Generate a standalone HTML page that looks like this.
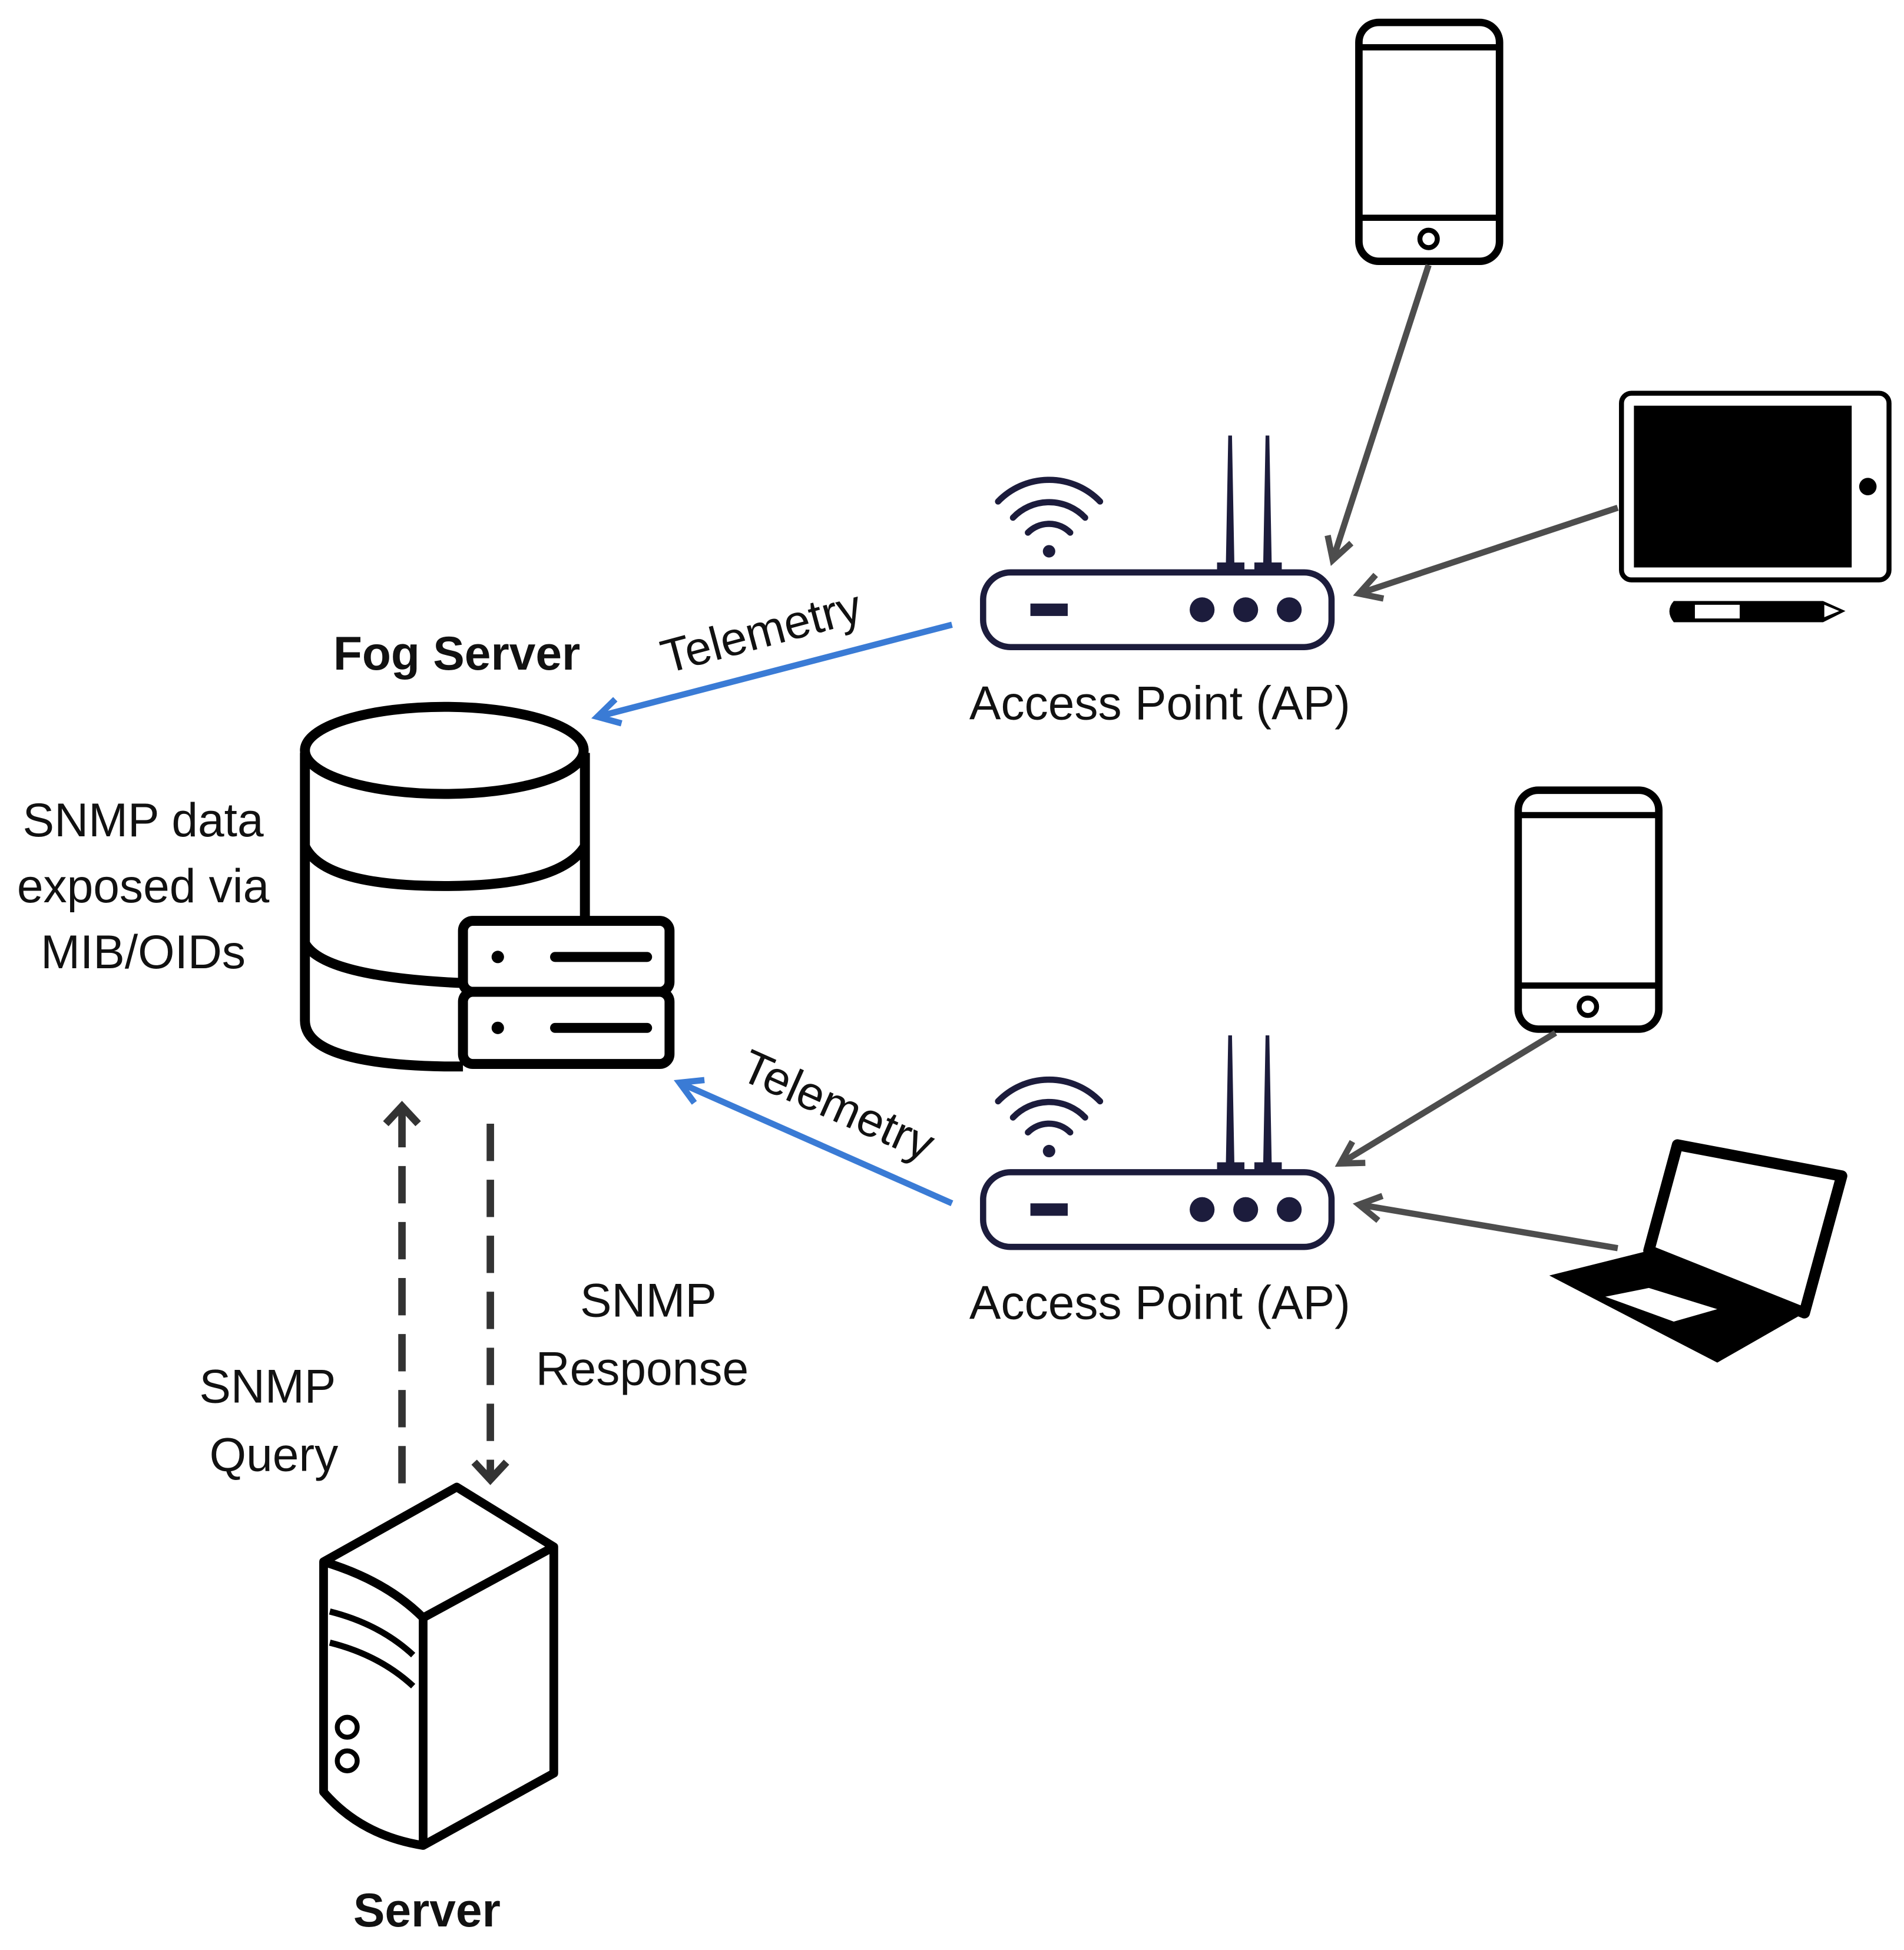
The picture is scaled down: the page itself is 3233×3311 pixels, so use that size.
<!DOCTYPE html>
<html><head><meta charset="utf-8"><style>
html,body{margin:0;padding:0;background:#fff}
svg{display:block}
text{font-family:"Liberation Sans",sans-serif;fill:#111}
</style></head><body>
<svg width="3233" height="3311" viewBox="0 0 1530 1567" xmlns="http://www.w3.org/2000/svg">
<defs>
<marker id="ag" viewBox="0 0 10 10" refX="8" refY="5" markerWidth="5" markerHeight="5" orient="auto"><path d="M1,1 L8,5 L1,9" fill="none" stroke="#4d4d4d" stroke-width="2"/></marker>
<marker id="ab" viewBox="0 0 10 10" refX="8" refY="5" markerWidth="5" markerHeight="5" orient="auto"><path d="M1,1 L8,5 L1,9" fill="none" stroke="#3a7bd5" stroke-width="2"/></marker>
<marker id="ad" viewBox="0 0 10 10" refX="8" refY="5" markerWidth="4" markerHeight="4" orient="auto"><path d="M1,1 L8,5 L1,9" fill="none" stroke="#333" stroke-width="2"/></marker>
<g id="ap">
<rect x="790" y="460" width="280" height="60" rx="22" fill="#fff" stroke="#1c1c3c" stroke-width="5"/>
<rect x="828" y="485" width="30" height="10" fill="#1c1c3c"/>
<circle cx="966" cy="490" r="10" fill="#1c1c3c"/><circle cx="1001" cy="490" r="10" fill="#1c1c3c"/><circle cx="1036" cy="490" r="10" fill="#1c1c3c"/>
<path d="M985,458 L987,350 L990,350 L992,458Z M1015,458 L1017,350 L1020,350 L1022,458Z" fill="#1c1c3c"/>
<rect x="978" y="452" width="22" height="8" fill="#1c1c3c"/><rect x="1008" y="452" width="22" height="8" fill="#1c1c3c"/>
<circle cx="843" cy="443" r="5" fill="#1c1c3c"/>
<g fill="none" stroke="#1c1c3c" stroke-width="5" stroke-linecap="round">
<path d="M826,428 A24,24 0 0 1 860,428"/><path d="M814,416 A40,40 0 0 1 872,416"/><path d="M802,403 A57,57 0 0 1 884,403"/></g>
</g>
<g id="phone">
<rect x="1092" y="18" width="113" height="192" rx="16" fill="#fff" stroke="#000" stroke-width="6"/>
<line x1="1092" y1="38" x2="1205" y2="38" stroke="#000" stroke-width="5"/>
<line x1="1092" y1="175" x2="1205" y2="175" stroke="#000" stroke-width="5"/>
<circle cx="1148" cy="192" r="7" fill="none" stroke="#000" stroke-width="4"/>
</g>
</defs>
<use href="#phone"/>
<use href="#phone" transform="translate(128,617)"/>
<!-- tablet -->
<rect x="1303" y="316" width="215" height="150" rx="8" fill="#fff" stroke="#000" stroke-width="4"/>
<rect x="1313" y="326" width="175" height="130" fill="#000"/>
<circle cx="1501" cy="391" r="7" fill="#000"/>
<path d="M1345,483 L1465,483 L1483,491 L1465,500 L1345,500 Q1338,491 1345,483Z" fill="#000"/>
<rect x="1362" y="486" width="36" height="11" fill="#fff"/>
<path d="M1466,486 L1478,491 L1466,496Z" fill="#fff"/>
<!-- laptop -->
<path d="M1348,920 L1480,945 L1450,1055 L1325,1005Z" fill="#fff" stroke="#000" stroke-width="9" stroke-linejoin="round"/>
<path d="M1245,1025 L1325,1005 L1450,1055 L1380,1095Z" fill="#000"/>
<path d="M1290,1042 L1325,1035 L1380,1052 L1345,1062Z" fill="#fff"/>
<use href="#ap"/>
<use href="#ap" transform="translate(0,482)"/>
<text x="932" y="578" font-size="38" text-anchor="middle">Access Point (AP)</text>
<text x="932" y="1060" font-size="38" text-anchor="middle">Access Point (AP)</text>
<!-- gray arrows -->
<g stroke="#4d4d4d" stroke-width="5" fill="none">
<line x1="1148" y1="213" x2="1071" y2="450" marker-end="url(#ag)"/>
<line x1="1300" y1="408" x2="1092" y2="477" marker-end="url(#ag)"/>
<line x1="1250" y1="830" x2="1077" y2="935" marker-end="url(#ag)"/>
<line x1="1300" y1="1003" x2="1092" y2="968" marker-end="url(#ag)"/>
</g>
<!-- blue -->
<g stroke="#3a7bd5" stroke-width="5" fill="none">
<line x1="765" y1="502" x2="480" y2="576" marker-end="url(#ab)"/>
<line x1="765" y1="967" x2="546" y2="870" marker-end="url(#ab)"/>
</g>
<text font-size="38" text-anchor="middle" transform="translate(615,520) rotate(-15)">Telemetry</text>
<text font-size="38" text-anchor="middle" transform="translate(668,900) rotate(24)">Telemetry</text>
<!-- fog server -->
<text x="367" y="538" font-size="38" font-weight="bold" text-anchor="middle">Fog Server</text>
<g fill="#fff" stroke="#000" stroke-width="8">
<path d="M245,605 L245,820 Q245,855 357,857 L372,857"/>
<path d="M470,605 L470,738"/>
<ellipse cx="357" cy="603" rx="112" ry="35"/>
<path d="M245,680 Q260,712 357,712 Q450,712 470,680" fill="none"/>
<path d="M245,758 Q260,785 372,790" fill="none"/>
<rect x="372" y="740" width="166" height="57" rx="8"/>
<rect x="372" y="797" width="166" height="58" rx="8"/>
</g>
<circle cx="400" cy="769" r="5"/><circle cx="400" cy="826" r="5"/>
<line x1="446" y1="769" x2="520" y2="769" stroke="#000" stroke-width="8" stroke-linecap="round"/>
<line x1="446" y1="826" x2="520" y2="826" stroke="#000" stroke-width="8" stroke-linecap="round"/>
<g font-size="38" text-anchor="middle">
<text x="115" y="672">SNMP data</text><text x="115" y="725">exposed via</text><text x="115" y="778">MIB/OIDs</text>
<text x="215" y="1127">SNMP</text><text x="220" y="1182">Query</text>
<text x="521" y="1058">SNMP</text><text x="516" y="1113">Response</text>
</g>
<!-- dashed -->
<g stroke="#333" stroke-width="6" fill="none" stroke-dasharray="30,15">
<line x1="323" y1="1192" x2="323" y2="892"/>
<line x1="394" y1="903" x2="394" y2="1185"/>
</g>
<path d="M310,903 L323,889 L336,903" fill="none" stroke="#333" stroke-width="6"/>
<path d="M381,1175 L394,1189 L407,1175" fill="none" stroke="#333" stroke-width="6"/>
<!-- server tower -->
<g fill="none" stroke="#000" stroke-width="7" stroke-linejoin="round">
<path d="M260,1255 L367,1195 L445,1243 L445,1425 L340,1483 Q290,1475 260,1440 Z"/>
<path d="M260,1255 Q310,1270 340,1300 L340,1483"/>
<path d="M340,1300 L445,1243"/>
<path d="M265,1295 Q305,1305 332,1330" stroke-width="5"/>
<path d="M265,1320 Q305,1330 332,1355" stroke-width="5"/>
<circle cx="279" cy="1388" r="8" stroke-width="4"/>
<circle cx="279" cy="1415" r="8" stroke-width="4"/>
</g>
<text x="343" y="1548" font-size="38" font-weight="bold" text-anchor="middle">Server</text>
</svg>
</body></html>
